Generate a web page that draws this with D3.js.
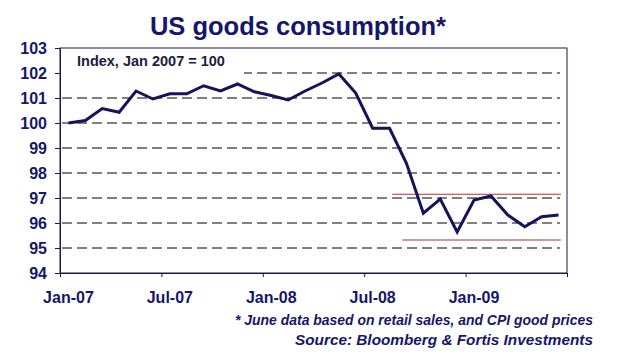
<!DOCTYPE html>
<html><head><meta charset="utf-8">
<script src="https://cdn.jsdelivr.net/npm/d3@7"></script>
<style>
html,body{margin:0;padding:0;background:#fff;}
svg{display:block;font-family:Arial,"Liberation Sans",sans-serif;}
</style></head>
<body><svg id="c" width="618" height="355"></svg>
<script>
const months = ["Jan-07","Feb-07","Mar-07","Apr-07","May-07","Jun-07","Jul-07","Aug-07","Sep-07","Oct-07","Nov-07","Dec-07",
"Jan-08","Feb-08","Mar-08","Apr-08","May-08","Jun-08","Jul-08","Aug-08","Sep-08","Oct-08","Nov-08","Dec-08",
"Jan-09","Feb-09","Mar-09","Apr-09","May-09","Jun-09"];
const values = [100.0,100.1,100.58,100.43,101.28,100.96,101.17,101.17,101.49,101.28,101.56,101.25,
101.1,100.92,101.28,101.6,101.96,101.2,99.79,99.79,98.39,96.39,96.96,95.64,
96.92,97.08,96.32,95.85,96.25,96.32];
const xTickLabels = ["Jan-07","Jul-07","Jan-08","Jul-08","Jan-09"];
const yTicks = [94,95,96,97,98,99,100,101,102,103];
// reference bands: level, start month position, end month position
const bandLevels = [97.15, 95.32];
const bandStarts = [19.66, 20.25];
const bandEnds = [29.64, 29.64];

const navy = "#16166a";
const svg = d3.select("#c");
const L=60, R=567, T=48, B=273;
const x = d3.scaleLinear().domain([0, months.length]).range([L, R]);
const y = d3.scaleLinear().domain([94, 103]).range([B, T]);

// title
svg.append("text").attr("x",298).attr("y",35).attr("text-anchor","middle")
  .attr("font-size",25.5).attr("font-weight","bold").attr("fill",navy).text("US goods consumption*");

// gridlines
const g = svg.append("g");
g.selectAll("line.grid").data(yTicks.filter(v=>v>94 && v<103)).join("line")
  .attr("x1",L+2).attr("x2",R-7).attr("y1",d=>y(d)).attr("y2",d=>y(d))
  .attr("stroke","#000").attr("stroke-width",1).attr("stroke-dasharray","10,5");

// index label box
svg.append("rect").attr("x",L+1).attr("y",y(102)-6).attr("width",183).attr("height",12).attr("fill","#fff");
svg.append("text").attr("x",77).attr("y",66).attr("font-size",14.5).attr("font-weight","bold")
  .attr("fill","#1c1c40").text("Index, Jan 2007 = 100");

// border
svg.append("rect").attr("x",L).attr("y",T).attr("width",R-L).attr("height",B-T)
  .attr("fill","none").attr("stroke","#1a1a4a").attr("stroke-width",1);

// y axis
const yAxis = d3.axisLeft(y).tickValues(yTicks).tickSize(5).tickPadding(8).tickFormat(d3.format("d"));
const ya = svg.append("g").attr("transform",`translate(${L},0)`).call(yAxis);
ya.select(".domain").attr("stroke","#1a1a4a");
ya.selectAll(".tick line").attr("stroke","#1a1a4a");
ya.selectAll("text").attr("font-size",16).attr("font-weight","bold").attr("fill",navy).attr("font-family","Arial, 'Liberation Sans', sans-serif");

// x axis ticks at every 6 months boundary
const xa = svg.append("g").attr("transform",`translate(0,${B})`)
  .call(d3.axisBottom(x).tickValues([0,6,12,18,24,30]).tickSize(4).tickFormat(""));
xa.select(".domain").attr("stroke","#1a1a4a");
xa.selectAll(".tick line").attr("stroke","#1a1a4a");
svg.append("g").selectAll("text").data(xTickLabels).join("text")
  .attr("x",d=>x(months.indexOf(d)+0.5)).attr("y",303).attr("text-anchor","middle")
  .attr("font-size",16).attr("font-weight","bold").attr("fill",navy).text(d=>d);

// red reference lines
svg.append("g").selectAll("line").data(bandLevels).join("line")
  .attr("x1",(d,i)=>x(bandStarts[i])).attr("x2",(d,i)=>x(bandEnds[i]))
  .attr("y1",d=>y(d)).attr("y2",d=>y(d)).attr("stroke","#b03030").attr("stroke-width",1.2);

// series line
const line = d3.line().x((d,i)=>x(i+0.5)).y(d=>y(d));
svg.append("path").datum(values).attr("d",line).attr("fill","none")
  .attr("stroke","#14145a").attr("stroke-width",3).attr("stroke-linejoin","miter");

// footnotes
svg.append("text").attr("x",593).attr("y",325).attr("text-anchor","end")
  .attr("font-size",14).attr("font-weight","bold").attr("font-style","italic").attr("fill",navy)
  .attr("textLength",358).attr("lengthAdjust","spacingAndGlyphs")
  .text("* June data based on retail sales, and CPI good prices");
svg.append("text").attr("x",593).attr("y",345).attr("text-anchor","end")
  .attr("font-size",14).attr("font-weight","bold").attr("font-style","italic").attr("fill",navy)
  .attr("textLength",298).attr("lengthAdjust","spacingAndGlyphs")
  .text("Source: Bloomberg & Fortis Investments");
</script></body></html>
